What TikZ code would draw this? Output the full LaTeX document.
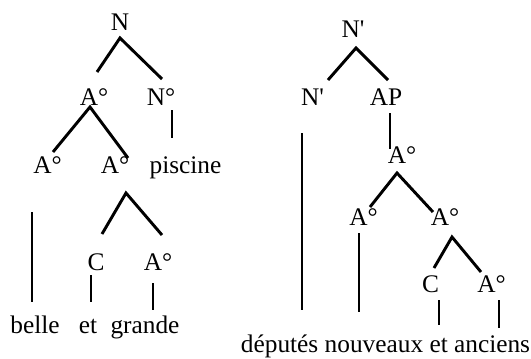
\documentclass[tikz,border=0pt]{standalone}
\usepackage{fontspec}
\setmainfont{Liberation Serif}[Ligatures=TeXOff]
\begin{document}
\begin{tikzpicture}[x=0.75pt,y=-0.75pt,
  lbl/.style={inner sep=0pt,anchor=base,font=\fontsize{19}{22}\selectfont},
  br/.style={line width=2.2pt}]
\useasboundingbox (0,0) rectangle (531,358);
% ---------- left tree ----------
\node[lbl] (N) at (120,30) {N};
\node[lbl] (A1) at (94,105) {A°};
\node[lbl] (No) at (161,105) {N°};
\node[lbl] (A2) at (47.5,173) {A°};
\node[lbl] (A3) at (115,173) {A°};
\node[lbl] (pis) at (185.5,173) {piscine};
\node[lbl] (C1) at (96,270) {C};
\node[lbl] (A4) at (158,270) {A°};
\node[lbl] (belle) at (35,333) {belle};
\node[lbl] (et1) at (88,333) {et};
\node[lbl] (grande) at (145,333) {grande};
\coordinate (Nb) at (120,38);
\coordinate (A1t) at (97,72);
\coordinate (Not) at (162,79);
\coordinate (Nob) at (172,110);
\coordinate (pist) at (172,138);
\coordinate (A1b) at (90,107);
\coordinate (A2t) at (53,152);
\coordinate (A3t) at (128,158);
\coordinate (A2b) at (32,212);
\coordinate (bellet) at (32,302);
\coordinate (A3b) at (126,193);
\coordinate (C1t) at (102,234);
\coordinate (A4t) at (162,235);
\coordinate (C1b) at (91,275);
\coordinate (et1t) at (91,302);
\coordinate (A4b) at (153,283);
\coordinate (grandet) at (153,310);
\draw[br] (A1t) -- (Nb) -- (Not);
\draw[br] (Nob) -- (pist);
\draw[br] (A2t) -- (A1b) -- (A3t);
\draw[br] (A2b) -- (bellet);
\draw[br] (C1t) -- (A3b) -- (A4t);
\draw[br] (C1b) -- (et1t);
\draw[br] (A4b) -- (grandet);
% ---------- right tree ----------
\node[lbl] (Np) at (353,37) {N'};
\node[lbl] (Np2) at (312.5,105) {N'};
\node[lbl] (AP) at (386,105) {AP};
\node[lbl] (A5) at (402,163) {A°};
\node[lbl] (A6) at (363.5,225) {A°};
\node[lbl] (A7) at (445,225) {A°};
\node[lbl] (C2) at (430.5,292) {C};
\node[lbl] (A8) at (491.5,292) {A°};
\node[lbl] (words) at (385.5,352) {députés nouveaux et anciens};
\coordinate (Npb) at (356,48);
\coordinate (Np2t) at (328,80);
\coordinate (APt) at (388,80);
\coordinate (APb) at (390,113);
\coordinate (A5t) at (390,149);
\coordinate (Np2b) at (302,133);
\coordinate (depl) at (302,310);
\coordinate (A5b) at (397,173);
\coordinate (A6t) at (370,207);
\coordinate (A7t) at (433,212);
\coordinate (A6b) at (359,233);
\coordinate (nouvl) at (359,312);
\coordinate (A7b) at (452,237);
\coordinate (C2t) at (434,268);
\coordinate (A8t) at (481,272);
\coordinate (C2b) at (439,300);
\coordinate (etl) at (439,325);
\coordinate (A8b) at (499,300);
\coordinate (ancl) at (499,328);
\draw[br] (Np2t) -- (Npb) -- (APt);
\draw[br] (APb) -- (A5t);
\draw[br] (Np2b) -- (depl);
\draw[br] (A6t) -- (A5b) -- (A7t);
\draw[br] (A6b) -- (nouvl);
\draw[br] (C2t) -- (A7b) -- (A8t);
\draw[br] (C2b) -- (etl);
\draw[br] (A8b) -- (ancl);
\end{tikzpicture}
\end{document}
